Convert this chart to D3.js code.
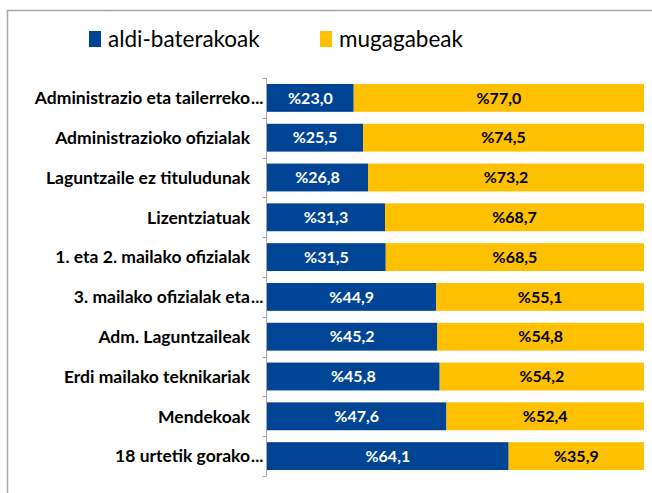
<!DOCTYPE html>
<html>
<head>
<meta charset="utf-8">
<script src="https://cdn.jsdelivr.net/npm/d3@7"></script>
<style>
  body { margin: 0; background: #fff; }
  svg { display: block; font-family: Lato, "Open Sans", sans-serif; }
</style>
</head>
<body>
<svg id="chart" width="652" height="493"></svg>
<script>
// categories, top to bottom
var categories = [
  "Administrazio eta tailerreko...",
  "Administrazioko ofizialak",
  "Laguntzaile ez tituludunak",
  "Lizentziatuak",
  "1. eta 2. mailako ofizialak",
  "3. mailako ofizialak eta...",
  "Adm. Laguntzaileak",
  "Erdi mailako teknikariak",
  "Mendekoak",
  "18 urtetik gorako..."
];
var seriesNames = ["aldi-baterakoak", "mugagabeak"];
var aldiBaterakoak = [23.0, 25.5, 26.8, 31.3, 31.5, 44.9, 45.2, 45.8, 47.6, 64.1];
var mugagabeak     = [77.0, 74.5, 73.2, 68.7, 68.5, 55.1, 54.8, 54.2, 52.4, 35.9];

var colors = ["#004595", "#ffc000"];
var labelColors = ["#ffffff", "#000000"];

var svg = d3.select("#chart");

// outer frame (runs off the right and bottom edges)
svg.append("rect")
  .attr("x", 7.5).attr("y", 10.5)
  .attr("width", 700).attr("height", 600)
  .attr("fill", "none").attr("stroke", "#a6a6a6").attr("stroke-width", 1.5);

var rows = categories.map(function(c, i) {
  return { cat: c, vals: [aldiBaterakoak[i], mugagabeak[i]] };
});

var x = d3.scaleLinear().domain([0, 100]).range([267, 644]);
var y = d3.scaleBand().domain(categories).range([78, 476]).paddingInner(0.3).paddingOuter(0.15);

// stacked segments
var stack = d3.stack().keys([0, 1]).value(function(d, k) { return d.vals[k]; });
var layers = stack(rows);

var g = svg.append("g");
layers.forEach(function(layer, k) {
  g.selectAll(".seg" + k)
    .data(layer)
    .enter().append("rect")
    .attr("x", function(d) { return x(d[0]); })
    .attr("y", function(d) { return y(d.data.cat); })
    .attr("width", function(d) { return x(d[1]) - x(d[0]); })
    .attr("height", y.bandwidth())
    .attr("fill", colors[k]);

  g.selectAll(".lab" + k)
    .data(layer)
    .enter().append("text")
    .attr("x", function(d) { return (x(d[0]) + x(d[1])) / 2; })
    .attr("y", function(d) { return y(d.data.cat) + y.bandwidth() / 2; })
    .attr("dy", "0.36em")
    .attr("text-anchor", "middle")
    .attr("font-size", 16)
    .attr("font-weight", "bold")
    .attr("fill", labelColors[k])
    .text(function(d) { return "%" + d3.format(".1f")(d[1] - d[0]).replace(".", ","); });
});

// category axis with ticks between bands
var axisX = 266.5;
svg.append("line")
  .attr("x1", axisX).attr("x2", axisX)
  .attr("y1", y.range()[0]).attr("y2", y.range()[1])
  .attr("stroke", "#a6a6a6");
var bounds = d3.range(categories.length + 1).map(function(i) { return y.range()[0] + i * (y.range()[1] - y.range()[0]) / categories.length; });
svg.selectAll(".tick")
  .data(bounds)
  .enter().append("line")
  .attr("x1", axisX - 4).attr("x2", axisX)
  .attr("y1", function(d) { return Math.round(d) + 0.5; })
  .attr("y2", function(d) { return Math.round(d) + 0.5; })
  .attr("stroke", "#a6a6a6");

var labelX = 250;
var catLabels = svg.selectAll(".cat")
  .data(categories)
  .enter().append("g")
  .attr("transform", function(d) { return "translate(0," + (y(d) + y.bandwidth() / 2) + ")"; });
catLabels.append("text")
  .attr("x", labelX)
  .attr("dy", "0.36em")
  .attr("text-anchor", "end")
  .attr("font-size", 17.5)
  .attr("font-weight", "bold")
  .attr("fill", "#000")
  .text(function(d) { return d.replace(/\.\.\.$/, ""); });
catLabels.filter(function(d) { return /\.\.\.$/.test(d); })
  .append("text")
  .attr("x", labelX + 1)
  .attr("dy", "0.36em")
  .attr("font-size", 17.5)
  .attr("font-weight", "bold")
  .text("...");

// legend
var legendItems = [
  { name: seriesNames[0], color: colors[0], x: 89 },
  { name: seriesNames[1], color: colors[1], x: 320 }
];
var leg = svg.selectAll(".leg")
  .data(legendItems)
  .enter().append("g")
  .attr("transform", function(d) { return "translate(" + d.x + ",31)"; });
leg.append("rect")
  .attr("width", 12).attr("height", 16)
  .attr("fill", function(d) { return d.color; });
leg.append("text")
  .attr("x", 19).attr("y", 8)
  .attr("dy", "0.36em")
  .attr("font-size", 22.5)
  .attr("fill", "#000")
  .text(function(d) { return d.name; });
</script>
</body>
</html>
